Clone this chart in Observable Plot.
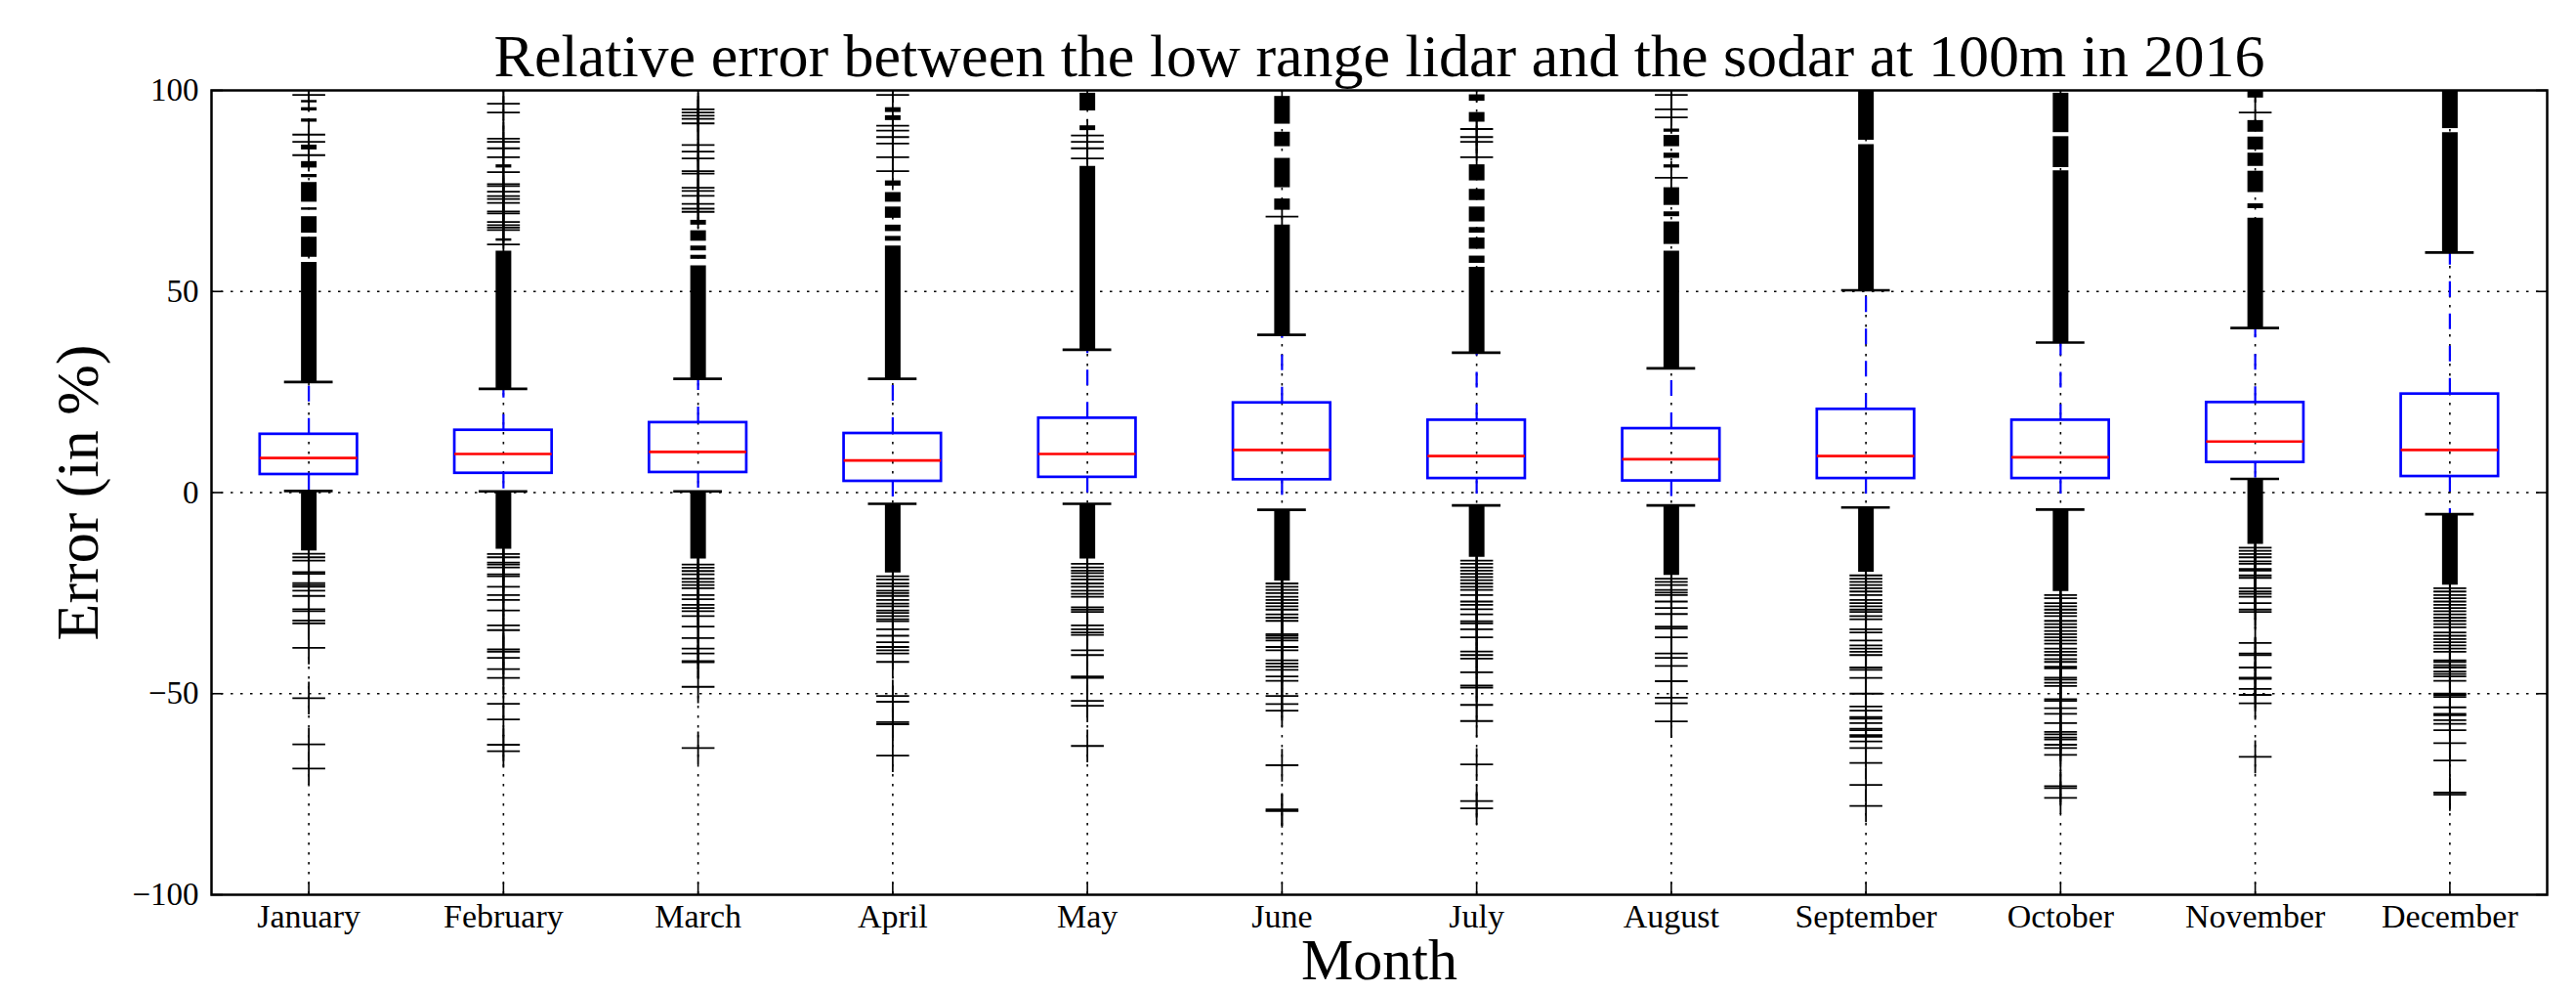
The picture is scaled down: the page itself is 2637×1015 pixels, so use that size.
<!DOCTYPE html>
<html>
<head>
<meta charset="utf-8">
<script src="https://cdn.jsdelivr.net/npm/d3@7"></script>
<script src="https://cdn.jsdelivr.net/npm/@observablehq/plot@0.6"></script>
<style>
  html, body { margin: 0; padding: 0; background: #fff; }
  #chart { width: 2637px; height: 1015px; overflow: hidden; }
</style>
</head>
<body>
<div id="chart"></div>
<script>
const titleText = "Relative error between the low range lidar and the sodar at 100m in 2016";
const xLabel = "Month";
const yLabel = "Error (in %)";
const months = ["January","February","March","April","May","June","July","August","September","October","November","December"];
const yTicks = [-100, -50, 0, 50, 100];
const xTicks = [1,2,3,4,5,6,7,8,9,10,11,12];

const whiskerLow  = [0.4, 0.3, 0.3, -2.8, -2.8, -4.3, -3.2, -3.2, -3.7, -4.2, 3.4, -5.4];
const q1          = [4.5, 4.8, 5.0, 2.8, 3.8, 3.2, 3.5, 2.9, 3.5, 3.5, 7.5, 4.0];
const median      = [8.6, 9.6, 10.1, 8.0, 9.6, 10.6, 9.1, 8.3, 9.1, 8.8, 12.7, 10.6];
const q3          = [14.5, 15.5, 17.4, 14.7, 18.5, 22.3, 18.0, 15.9, 20.7, 18.0, 22.4, 24.5];
const whiskerHigh = [27.5, 25.8, 28.3, 28.3, 35.5, 39.2, 34.8, 30.9, 50.3, 37.3, 40.9, 59.7];

// dense clusters of outliers (many overlapping "+" markers), as [from, to]
const upperDense = [
  [[27.5,57.2],[58.5,63.5],[64.5,68.6],[70.2,70.8],[72.2,77.1],[78.3,79.1],[80.7,82.3],[85.2,86.4],[92.1,92.9],[94.9,95.7],[96.9,97.5]],
  [[25.8,60.0],[62.5,63.1],[80.7,81.5]],
  [[28.3,56.4],[58.0,59.0],[60.1,61.3],[62.5,65.1],[66.5,67.7]],
  [[28.3,61.3],[62.5,63.7],[64.9,66.5],[68.2,71.0],[72.2,74.6],[76.2,77.5],[92.5,93.7],[94.5,95.7]],
  [[35.5,81.1],[90.0,91.2],[94.9,99.3]],
  [[39.2,66.5],[70.2,73.0],[75.8,83.1],[86.0,89.6],[91.6,98.5]],
  [[34.8,56.0],[57.0,58.8],[60.5,63.3],[64.5,65.9],[67.3,71.0],[72.6,75.4],[77.5,81.5],[92.1,94.5],[97.3,98.9]],
  [[30.9,60.0],[61.7,67.3],[68.6,69.8],[71.4,75.8],[80.7,81.5],[83.1,84.4],[86.0,88.8],[89.6,90.4]],
  [[50.3,86.5],[87.6,99.8]],
  [[37.3,80.0],[80.8,88.5],[89.5,99.3]],
  [[40.9,68.2],[70.6,71.8],[74.6,79.9],[81.1,84.4],[85.2,88.4],[89.6,92.5],[98.1,99.8]],
  [[59.7,89.5],[90.5,99.8]]
];
const upperSparse = [
  [83.9, 87.2, 89.0, 98.9],
  [96.7, 94.5, 88.0, 87.2, 85.6, 83.4, 79.7, 76.7, 76.2, 74.8, 73.7, 73.0, 72.0, 69.9, 69.4, 67.3, 66.5, 65.9, 65.3, 61.7],
  [95.3, 94.5, 93.7, 92.9, 91.8, 86.4, 84.8, 83.1, 79.9, 79.3, 75.8, 75.0, 73.8, 71.8, 70.6, 69.8],
  [98.9, 91.2, 90.0, 88.4, 86.8, 83.4, 79.9],
  [88.8, 87.2, 85.6, 83.1],
  [68.6],
  [90.4, 88.4, 87.2, 83.4],
  [98.9, 95.3, 93.3, 78.3],
  [],
  [],
  [94.5],
  []
];
const lowerDense = [
  [[0.4,-14.5]], [[0.3,-14.1]], [[0.3,-16.5]], [[-2.8,-20.0]], [[-2.8,-16.5]], [[-4.3,-22.0]],
  [[-3.2,-16.1]], [[-3.2,-20.6]], [[-3.7,-19.8]], [[-4.2,-24.6]], [[3.4,-12.9]], [[-5.4,-23.0]]
];
const lowerSparse = [
  [-15.2,-16.1,-16.9,-19.8,-20.2,-22.5,-23.0,-23.4,-24.4,-25.7,-29.0,-29.5,-31.8,-32.5,-38.6,-51.1,-62.6,-68.6],
  [-15.3,-16.1,-17.4,-17.9,-18.6,-20.3,-20.8,-23.4,-25.5,-26.7,-29.3,-33.0,-34.2,-39.0,-39.6,-41.1,-43.9,-46.1,-52.5,-56.4,-62.7,-64.3],
  [-17.9,-18.7,-19.5,-20.3,-21.4,-22.2,-23.0,-23.8,-25.5,-26.5,-27.9,-28.7,-29.5,-30.7,-33.3,-36.2,-38.8,-40.0,-41.9,-42.2,-48.3,-63.5],
  [-20.8,-21.6,-22.6,-23.3,-24.4,-25.0,-25.7,-26.7,-27.6,-28.3,-29.3,-29.9,-30.7,-31.5,-32.0,-34.0,-35.6,-37.2,-38.4,-39.2,-40.0,-42.1,-50.6,-52.0,-57.1,-57.6,-65.4],
  [-17.7,-18.6,-19.4,-20.0,-20.8,-21.6,-22.6,-23.4,-24.4,-25.2,-25.9,-28.5,-29.1,-29.7,-33.0,-34.0,-34.8,-35.4,-39.2,-40.4,-45.7,-46.1,-51.8,-53.0,-63.0],
  [-22.6,-23.4,-24.2,-25.0,-25.9,-26.7,-27.5,-28.3,-29.1,-30.3,-31.1,-31.9,-35.2,-35.6,-36.2,-36.8,-38.4,-39.2,-41.7,-42.5,-43.3,-44.1,-45.7,-46.8,-50.6,-52.6,-54.2,-67.8,-78.8,-79.2],
  [-16.9,-17.7,-18.6,-19.4,-20.2,-21.0,-21.8,-22.6,-23.4,-24.2,-25.5,-27.1,-27.9,-29.0,-30.3,-32.0,-32.5,-34.0,-36.0,-39.5,-40.4,-41.3,-44.7,-48.0,-48.5,-52.8,-56.8,-67.6,-76.7,-78.5],
  [-21.4,-22.2,-23.0,-24.2,-24.9,-25.5,-27.1,-28.7,-30.2,-33.3,-33.8,-36.0,-40.0,-41.1,-43.1,-46.9,-51.0,-52.4,-56.9],
  [-20.6,-21.4,-22.2,-23.0,-23.8,-24.6,-25.5,-26.7,-27.5,-28.3,-29.1,-29.7,-30.7,-31.5,-34.0,-34.8,-36.8,-38.0,-38.8,-39.6,-40.4,-43.5,-44.1,-46.1,-50.0,-53.2,-54.2,-55.8,-56.2,-57.3,-58.7,-59.1,-60.3,-60.7,-61.9,-63.5,-67.2,-72.7,-77.9],
  [-25.5,-26.3,-27.5,-28.3,-29.1,-29.9,-30.7,-31.9,-32.7,-33.5,-34.4,-35.2,-36.0,-36.8,-37.6,-38.8,-39.6,-40.4,-41.4,-42.1,-43.3,-43.7,-46.0,-46.5,-47.3,-48.1,-51.4,-51.8,-53.6,-55.0,-57.3,-59.5,-60.1,-60.9,-61.4,-62.7,-63.5,-65.2,-73.0,-73.5,-75.9],
  [-13.7,-14.5,-15.3,-16.1,-17.1,-17.7,-19.0,-19.4,-20.6,-21.2,-23.8,-24.6,-25.2,-25.9,-27.5,-29.1,-29.7,-37.4,-40.0,-40.4,-43.5,-46.0,-46.3,-48.8,-50.3,-52.4,-65.7],
  [-23.8,-24.6,-25.5,-26.3,-27.1,-27.9,-28.7,-29.5,-30.3,-31.1,-31.9,-32.7,-33.5,-34.8,-35.6,-36.4,-37.2,-38.0,-38.8,-39.6,-41.7,-42.1,-42.9,-43.5,-44.5,-45.1,-45.7,-46.8,-50.0,-50.3,-50.8,-53.4,-55.0,-55.4,-56.6,-57.5,-59.1,-62.3,-66.6,-74.6,-75.1]
];

const boxes = months.map((m, i) => ({
  pos: i + 1, lo: whiskerLow[i], q1: q1[i], med: median[i], q3: q3[i], hi: whiskerHigh[i]
}));
const dense = months.flatMap((m, i) =>
  [...upperDense[i], ...lowerDense[i]].map(([a, b]) => ({pos: i + 1, a, b})));
const fliers = months.flatMap((m, i) =>
  [...upperSparse[i], ...lowerSparse[i]].map(v => ({pos: i + 1, v})));

const FONT = "Liberation Serif";
const BLUE = "#0000ff", RED = "#ff0000";

const chart = Plot.plot({
  width: 2637,
  height: 1015,
  marginTop: 92,
  marginBottom: 100,
  marginLeft: 216,
  marginRight: 30,
  style: {fontFamily: FONT, background: "#fff", color: "#000", overflow: "visible"},
  x: {type: "linear", domain: [0.5, 12.5]},
  y: {type: "linear", domain: [-100, 100]},
  marks: [
    // grid
    Plot.ruleY([-50, 0, 50], {stroke: "#000", strokeWidth: 1.6, strokeDasharray: "2.5,7.5"}),
    Plot.ruleX(xTicks, {stroke: "#000", strokeWidth: 1.6, strokeDasharray: "2.5,7.5"}),
    // whiskers
    Plot.ruleX(boxes, {x: "pos", y1: "q3", y2: "hi", stroke: BLUE, strokeWidth: 2.2, strokeDasharray: "16,17"}),
    Plot.ruleX(boxes, {x: "pos", y1: "q1", y2: "lo", stroke: BLUE, strokeWidth: 2.2, strokeDasharray: "16,17"}),
    // boxes
    Plot.rect(boxes, {x1: d => d.pos - 0.25, x2: d => d.pos + 0.25, y1: "q1", y2: "q3", fill: "none", stroke: BLUE, strokeWidth: 2.7}),
    // medians
    Plot.ruleY(boxes, {y: "med", x1: d => d.pos - 0.25, x2: d => d.pos + 0.25, stroke: RED, strokeWidth: 2.7}),
    // caps
    Plot.ruleY(boxes, {y: "hi", x1: d => d.pos - 0.125, x2: d => d.pos + 0.125, stroke: "#000", strokeWidth: 2.7}),
    Plot.ruleY(boxes, {y: "lo", x1: d => d.pos - 0.125, x2: d => d.pos + 0.125, stroke: "#000", strokeWidth: 2.7}),
    // outliers
    Plot.ruleX(dense, {x: "pos", y1: "a", y2: "b", stroke: "#000", strokeWidth: 16, clip: true}),
    Plot.dot(fliers, {x: "pos", y: "v", symbol: "plus", r: 10.85, stroke: "#000", strokeWidth: 1.8, clip: true}),
    // frame
    Plot.frame({stroke: "#000", strokeWidth: 2.5}),
    // ticks inside
    Plot.axisY({ticks: yTicks, anchor: "left", tickSize: -12, fill: "none", stroke: "#000", strokeWidth: 1.6, label: null}),
    Plot.axisY({ticks: yTicks, anchor: "right", tickSize: -12, fill: "none", stroke: "#000", strokeWidth: 1.6, label: null}),
    Plot.axisX({ticks: xTicks, anchor: "bottom", tickSize: -12, fill: "none", stroke: "#000", strokeWidth: 1.6, label: null}),
    Plot.axisX({ticks: xTicks, anchor: "top", tickSize: -12, fill: "none", stroke: "#000", strokeWidth: 1.6, label: null}),
    // tick labels
    Plot.axisY({ticks: yTicks, anchor: "left", tickSize: 0, tickPadding: 13, fontSize: 33, fill: "#000", label: null}),
    Plot.axisX({ticks: xTicks, anchor: "bottom", tickSize: 0, tickPadding: 9, fontSize: 34, fill: "#000",
      tickFormat: d => months[d - 1], label: null}),
    // title and axis labels
    Plot.text([titleText], {frameAnchor: "top", textAnchor: "middle", lineAnchor: "middle", dy: -34, fontSize: 62, fill: "#000"}),
    Plot.text([yLabel], {frameAnchor: "left", textAnchor: "middle", lineAnchor: "middle", dx: -136, rotate: -90, fontSize: 62, fill: "#000"}),
    Plot.text([xLabel], {frameAnchor: "bottom", textAnchor: "middle", lineAnchor: "middle", dy: 67, fontSize: 60, fill: "#000"})
  ]
});
document.getElementById("chart").appendChild(chart);
</script>
</body>
</html>
